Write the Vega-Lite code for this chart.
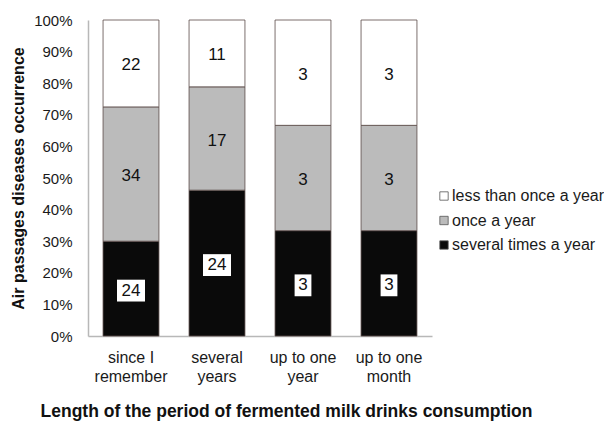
{
  "$schema": "https://vega.github.io/schema/vega-lite/v6.json",
  "width": 344,
  "height": 316,
  "autosize": "none",
  "padding": {"left": 88, "top": 20, "right": 172, "bottom": 87},
  "background": "white",
  "config": {
    "font": "Liberation Sans",
    "view": {"stroke": null}
  },
  "data": {
    "values": [
      {"category": "since I|remember", "series": "several times a year", "value": 24},
      {"category": "since I|remember", "series": "once a year", "value": 34},
      {"category": "since I|remember", "series": "less than once a year", "value": 22},
      {"category": "several|years", "series": "several times a year", "value": 24},
      {"category": "several|years", "series": "once a year", "value": 17},
      {"category": "several|years", "series": "less than once a year", "value": 11},
      {"category": "up to one|year", "series": "several times a year", "value": 3},
      {"category": "up to one|year", "series": "once a year", "value": 3},
      {"category": "up to one|year", "series": "less than once a year", "value": 3},
      {"category": "up to one|month", "series": "several times a year", "value": 3},
      {"category": "up to one|month", "series": "once a year", "value": 3},
      {"category": "up to one|month", "series": "less than once a year", "value": 3}
    ]
  },
  "transform": [
    {"stack": "value", "groupby": ["category"], "sort": [{"field": "series", "order": "descending"}], "offset": "normalize", "as": ["y0", "y1"]},
    {"calculate": "(datum.y0 + datum.y1) / 2", "as": "ymid"},
    {"calculate": "length(toString(datum.value)) == 1 ? 'one' : 'two'", "as": "digits"}
  ],
  "encoding": {
    "x": {
      "field": "category",
      "type": "nominal",
      "sort": null,
      "scale": {"paddingInner": 0.35, "paddingOuter": 0.175},
      "axis": {
        "labelExpr": "split(datum.label, '|')",
        "labelAngle": 0,
        "labelFont": "Liberation Sans",
        "labelFontSize": 16,
        "labelColor": "#1a1a1a",
        "labelLineHeight": 19,
        "labelPadding": 13,
        "ticks": false,
        "domainColor": "#b8b8b8",
        "domainWidth": 1.5,
        "title": "Length of the period of fermented milk drinks consumption",
        "titleFont": "Liberation Sans",
        "titleFontSize": 17.5,
        "titleFontWeight": "bold",
        "titleColor": "#111",
        "titleX": 198,
        "titleY": 75,
        "titleAlign": "center",
        "titleBaseline": "middle"
      }
    },
    "y": {
      "field": "y0",
      "type": "quantitative",
      "scale": {"domain": [0, 1], "nice": false},
      "axis": {
        "format": "%",
        "values": [0, 0.1, 0.2, 0.3, 0.4, 0.5, 0.6, 0.7, 0.8, 0.9, 1],
        "labelOverlap": false,
        "grid": false,
        "ticks": false,
        "labelFont": "Liberation Sans",
        "labelFontSize": 15,
        "labelColor": "#1a1a1a",
        "labelPadding": 16,
        "domainColor": "#b8b8b8",
        "domainWidth": 1.5,
        "title": "Air passages diseases occurrence",
        "titleFont": "Liberation Sans",
        "titleFontSize": 16,
        "titleFontWeight": "bold",
        "titleColor": "#111",
        "titleX": -70,
        "titleY": 158,
        "titleAlign": "center",
        "titleBaseline": "middle"
      }
    }
  },
  "layer": [
    {
      "mark": {"type": "bar", "stroke": "#5a4a48", "strokeWidth": 0.8},
      "encoding": {
        "y2": {"field": "y1"},
        "color": {
          "field": "series",
          "type": "nominal",
          "scale": {
            "domain": ["less than once a year", "once a year", "several times a year"],
            "range": ["#ffffff", "#bbbbbb", "#0a0a0a"]
          },
          "legend": {
            "title": null,
            "orient": "none",
            "legendX": 348,
            "legendY": 168,
            "symbolType": "square",
            "symbolSize": 70,
            "symbolStrokeColor": "#555",
            "symbolStrokeWidth": 0.8,
            "labelFont": "Liberation Sans",
            "labelFontSize": 16,
            "labelColor": "#1a1a1a",
            "labelOffset": 0,
            "rowPadding": 8.5
          }
        }
      }
    },
    {
      "transform": [{"filter": "datum.series == 'several times a year'"}],
      "mark": {"type": "point", "filled": true, "fill": "white", "opacity": 1, "strokeWidth": 0, "size": 784, "yOffset": 2},
      "encoding": {
        "y": {"field": "ymid", "type": "quantitative"},
        "shape": {
          "field": "digits",
          "type": "nominal",
          "scale": {"domain": ["two", "one"], "range": ["M-1,-0.78H1V0.78H-1Z", "M-0.6,-0.78H0.6V0.78H-0.6Z"]},
          "legend": null
        }
      }
    },
    {
      "mark": {"type": "text", "font": "Liberation Sans", "fontSize": 17, "color": "#111", "baseline": "middle", "dy": 2},
      "encoding": {
        "y": {"field": "ymid", "type": "quantitative"},
        "text": {"field": "value", "type": "quantitative"}
      }
    }
  ]
}
